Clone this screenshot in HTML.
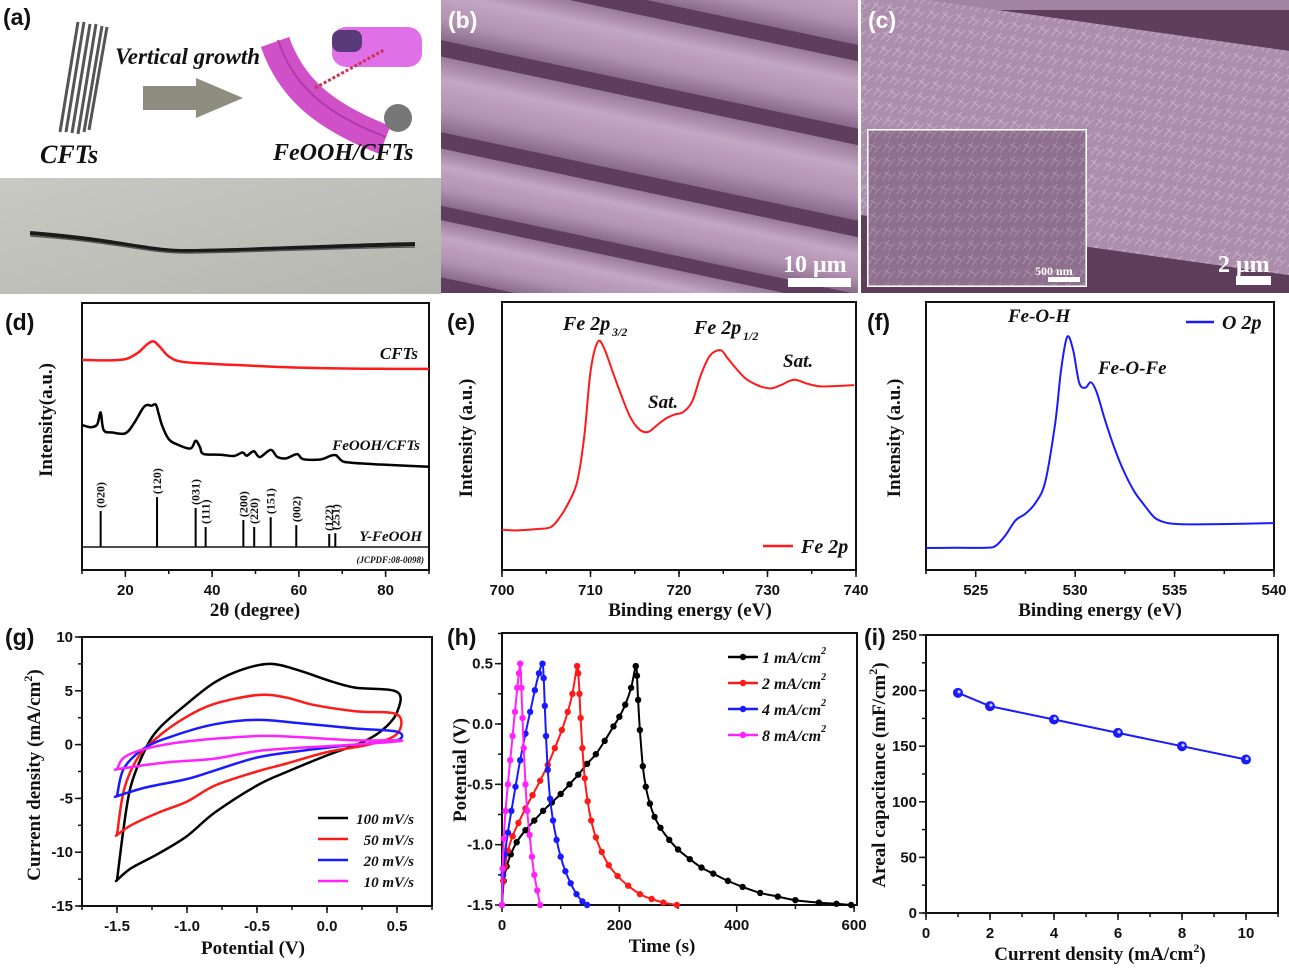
<!DOCTYPE html>
<html><head><meta charset="utf-8">
<style>
html,body{margin:0;padding:0;background:#fff;}
svg{display:block;}
.tk{font-family:"Liberation Sans",sans-serif;font-weight:bold;font-size:15px;fill:#111;}
.ti{font-family:"Liberation Serif",serif;font-weight:bold;font-size:19px;fill:#111;}
.it{font-family:"Liberation Serif",serif;font-weight:bold;font-style:italic;fill:#111;}
.pl{font-family:"Liberation Sans",sans-serif;font-weight:bold;font-size:23px;fill:#111;}
</style></head>
<body>
<svg id="fig" width="1289" height="970" viewBox="0 0 1289 970" xmlns="http://www.w3.org/2000/svg">
<defs>
<linearGradient id="bandG" x1="0" y1="0" x2="0" y2="1">
<stop offset="0" stop-color="#9a7a9a"/><stop offset="0.3" stop-color="#c2a6c2"/><stop offset="0.7" stop-color="#b292b2"/><stop offset="1" stop-color="#8a6a8a"/></linearGradient>
<linearGradient id="photoG" x1="0" y1="0" x2="1" y2="1">
<stop offset="0" stop-color="#c9c9c4"/><stop offset="1" stop-color="#b5b6b0"/></linearGradient>
<pattern id="flk" width="14" height="14" patternUnits="userSpaceOnUse">
<rect width="14" height="14" fill="#a283a2"/>
<path d="M1 12 L7 2 M6 13 L13 5 M2 4 L9 8" stroke="#d2bcd2" stroke-width="0.8"/>
</pattern>
</defs>

<g>
<rect x="0" y="178" width="441" height="116" fill="url(#photoG)"/>
<path d="M30 233 C120 240,150 252,190 251 C260 250,330 246,415 244" stroke="#1a1a1a" stroke-width="4" fill="none"/>
<path d="M30 236 C120 242,150 254,190 253 C260 252,330 248,415 247" stroke="#555" stroke-width="1.5" fill="none"/>
<g stroke="#555" stroke-width="3">
<line x1="78" y1="22" x2="60" y2="132"/><line x1="84" y1="22" x2="66" y2="132"/><line x1="90" y1="24" x2="72" y2="133"/><line x1="96" y1="24" x2="78" y2="134"/><line x1="102" y1="26" x2="84" y2="132"/><line x1="107" y1="27" x2="89" y2="130"/>
</g>
<text class="it" x="40" y="163" font-size="26">CFTs</text>
<text class="it" x="115" y="64" font-size="23">Vertical growth</text>
<polygon points="143,86 196,86 196,78 243,98 196,118 196,110 143,110" fill="#8f8d80"/>
<path d="M275 42 C290 85,320 115,385 140" stroke="#d050c8" stroke-width="30" fill="none"/>
<path d="M278 40 C292 82,320 112,386 137" stroke="#b03aa8" stroke-width="2" fill="none"/>
<circle cx="398" cy="118" r="14" fill="#777"/>
<rect x="332" y="27" width="90" height="40" rx="14" fill="#e070e8"/>
<rect x="332" y="30" width="30" height="22" rx="8" fill="#5a3a78"/>
<line x1="315" y1="88" x2="384" y2="50" stroke="#cc3355" stroke-width="3" stroke-dasharray="3,2"/>
<text class="it" x="273" y="160" font-size="24">FeOOH/CFTs</text>
<text class="pl" x="3" y="25">(a)</text>
</g>

<g>
<clipPath id="cb"><rect x="441" y="0" width="417" height="293"/></clipPath>
<g clip-path="url(#cb)">
<rect x="441" y="0" width="417" height="293" fill="#5f3d5c"/>
<g transform="rotate(12 650 150)">
<rect x="380" y="-62" width="560" height="66" fill="url(#bandG)"/>
<rect x="380" y="20" width="560" height="66" fill="url(#bandG)"/>
<rect x="380" y="102" width="560" height="74" fill="url(#bandG)"/>
<rect x="380" y="192" width="560" height="56" fill="url(#bandG)"/>
<rect x="380" y="262" width="560" height="56" fill="url(#bandG)"/>
</g>
</g>
<text x="783" y="272" font-family="Liberation Serif,serif" font-weight="bold" font-size="24" fill="#fff">10 μm</text>
<rect x="788" y="278" width="63" height="9" fill="#fff"/>
<text x="448" y="28" font-family="Liberation Sans,sans-serif" font-weight="bold" font-size="23" fill="#fff">(b)</text>
</g>

<g>
<clipPath id="cc"><rect x="861" y="0" width="428" height="293"/></clipPath>
<g clip-path="url(#cc)">
<rect x="861" y="0" width="428" height="293" fill="#5f3e5c"/>
<rect x="861" y="0" width="428" height="10" fill="#a283a2"/>
<g transform="rotate(8 1075 140)">
<rect x="820" y="22" width="520" height="222" fill="url(#flk)"/>
<rect x="820" y="22" width="520" height="222" fill="#c4a4c4" opacity="0.3"/>
</g>
</g>
<rect x="868" y="130" width="218" height="156" fill="url(#flk)" stroke="#fff" stroke-width="2"/>
<rect x="868" y="130" width="218" height="156" fill="#6a4a6a" opacity="0.35"/>
<text x="1035" y="275" font-family="Liberation Serif,serif" font-weight="bold" font-size="12" fill="#fff">500 nm</text>
<rect x="1048" y="277" width="32" height="5" fill="#fff"/>
<text x="1218" y="272" font-family="Liberation Serif,serif" font-weight="bold" font-size="24" fill="#fff">2 μm</text>
<rect x="1236" y="276" width="35" height="9" fill="#fff"/>
<text x="868" y="28" font-family="Liberation Sans,sans-serif" font-weight="bold" font-size="23" fill="#fff">(c)</text>
</g>

<g id="charts"></g>
</svg>

<script>
var xrdX_CFT = [10,15,20,23,25,26.5,28,30,33,40,45,60,75,90];
var xrdY_CFT = [78.7,78.5,79.0,81.5,84.5,85.6,83.5,80,78,77.2,76.8,75.8,75.4,75.3];
var xrdX_FE = [10,12,13.5,14.3,15,17,20,22,24,25,26,27,27.6,28.5,30,32,35,36.2,37.2,38,42,45,47,48,49.6,51,53.5,55,57,59.6,61,65,67,68.5,70,72,80,90];
var xrdY_FE = [54.3,53.5,54.5,59,52.4,51.5,51.2,55,60.5,61.8,61.5,62,59,54,49,47,45.5,48.4,46,43.5,43.2,42.7,44,42.8,44.5,42.3,45,42.4,41.8,43.4,41.5,41.4,42.6,43,40.8,40.2,39.4,38.7];
var refPos = [14.3,27.3,36.2,38.5,47.2,49.7,53.5,59.4,67.0,68.4];
var refH = [13.5,18.7,14.6,7.5,10.1,7.5,11.2,8.2,4.9,5.2];
var refLbl = ["(020)","(120)","(031)","(111)","(200)","(220)","(151)","(002)","(122)","(251)"];
var feX = [700,702,704,705.5,706.5,707.5,708.5,709.3,710,710.8,711.5,712.5,713.5,714.5,715.5,716.5,717.5,718.5,719.5,720.5,721.5,722.5,723.5,724.7,725.5,726.5,727.5,728.5,729.5,730.5,731.5,733,734.5,736,738,739.8];
var feY = [15,14.8,15.3,16,19.5,25,33,50,74,85,83,74,65,57,52.5,51.5,54,56.5,58,59,63,73,80,82,79,75,71.5,69.5,68.2,67.8,69,71,69.5,68.5,68.7,69];
var oX = [522.5,524,525.5,526,526.5,527,527.5,528,528.5,529,529.3,529.6,529.9,530.2,530.5,530.8,531.1,531.5,532,532.5,533,533.5,534,534.5,535,536,538,540];
var oY = [8.2,8.3,8.3,9,13,18.5,21,25,33,55,75,87,82,70,68,70,66,56,45,36,29,24,19.5,17.8,17.2,17,17.2,17.5];
var cvRates = ["100 mV/s","50 mV/s","20 mV/s","10 mV/s"];
var cvColors = ["#000000","#ff1a1a","#1a1aff","#ff22ff"];
var cvE = [
 [-1.5,-1.45,-1.4,-1.3,-1.2,-1.0,-0.8,-0.6,-0.4,-0.2,0.0,0.2,0.5,0.5,0.4,0.25,0.0,-0.3,-0.5,-0.8,-1.0,-1.2,-1.4,-1.5,-1.5],
 [-1.5,-1.45,-1.35,-1.2,-1.0,-0.8,-0.5,-0.3,-0.1,0.2,0.5,0.5,0.3,0.0,-0.3,-0.5,-0.8,-1.0,-1.2,-1.4,-1.5,-1.5],
 [-1.5,-1.45,-1.3,-1.1,-0.8,-0.5,-0.2,0.2,0.5,0.5,0.2,-0.2,-0.5,-0.8,-1.0,-1.3,-1.5,-1.5],
 [-1.5,-1.45,-1.3,-1.0,-0.5,-0.2,0.2,0.5,0.5,0.2,-0.2,-0.5,-0.8,-1.1,-1.3,-1.5,-1.5]];
var cvI = [
 [-12.6,-7.5,-3.8,-0.5,1.5,3.8,5.8,7.0,7.5,6.9,6.0,5.3,4.9,3.0,1.4,0.2,-1.0,-2.6,-3.8,-6.3,-8.5,-10.1,-11.5,-12.6,-12.6],
 [-8.4,-4.2,-1.2,0.8,2.6,3.8,4.6,4.4,3.7,3.1,2.8,1.0,0.0,-0.7,-1.8,-2.5,-3.8,-5.3,-6.3,-7.5,-8.4,-8.4],
 [-4.8,-2.2,-0.3,0.8,1.9,2.3,2.0,1.5,1.2,0.4,0.0,-0.6,-1.2,-2.4,-3.2,-4.0,-4.8,-4.8],
 [-2.3,-1.2,-0.4,0.3,0.8,0.7,0.4,0.4,0.3,0.0,-0.3,-0.6,-1.3,-1.6,-1.9,-2.3,-2.3]];
var gcdLbl = ["1 mA/cm","2 mA/cm","4 mA/cm","8 mA/cm"];
var gcdColors = ["#000000","#ff1a1a","#1a1aff","#ff22ff"];
var gcdT = [
 [0,3,8,15,25,40,55,70,85,100,115,130,145,160,175,190,200,210,220,228,230,232,235,240,245,252,260,270,285,300,320,340,360,385,410,440,470,500,540,570,595],
 [0,2,5,10,18,28,40,52,65,78,90,102,112,120,128,130,132,134,137,141,146,152,160,170,182,197,215,235,255,275,298],
 [0,2,5,10,16,23,31,40,48,56,63,69,71,73,75,78,82,87,93,100,108,117,127,137,145],
 [0,1,3,6,10,14,18,22,26,29,31,33,35,37,40,43,47,51,55,60,65]];
var gcdV = [
 [-1.5,-1.3,-1.18,-1.08,-0.98,-0.88,-0.8,-0.72,-0.65,-0.58,-0.5,-0.42,-0.33,-0.25,-0.14,-0.02,0.06,0.16,0.3,0.48,0.4,0.2,-0.05,-0.35,-0.52,-0.66,-0.77,-0.86,-0.96,-1.04,-1.12,-1.19,-1.24,-1.3,-1.35,-1.4,-1.43,-1.46,-1.48,-1.49,-1.5],
 [-1.5,-1.3,-1.18,-1.05,-0.93,-0.82,-0.7,-0.59,-0.47,-0.34,-0.2,-0.05,0.1,0.25,0.48,0.42,0.25,0.05,-0.2,-0.45,-0.64,-0.8,-0.94,-1.06,-1.17,-1.26,-1.34,-1.41,-1.45,-1.48,-1.5],
 [-1.5,-1.25,-1.08,-0.9,-0.72,-0.52,-0.3,-0.08,0.1,0.28,0.42,0.5,0.38,0.15,-0.1,-0.38,-0.62,-0.8,-0.96,-1.1,-1.22,-1.32,-1.41,-1.47,-1.5],
 [-1.5,-1.2,-0.95,-0.72,-0.5,-0.3,-0.1,0.1,0.3,0.42,0.5,0.3,0.05,-0.2,-0.5,-0.72,-0.92,-1.1,-1.25,-1.38,-1.5]];
var capX = [1,2,4,6,8,10];
var capY = [198,186,174,162,150,138];

var NS = "http://www.w3.org/2000/svg";
var root = document.getElementById("charts");
function E(tag, attrs, parent){var e=document.createElementNS(NS,tag);for(var k in attrs)e.setAttribute(k,attrs[k]);(parent||root).appendChild(e);return e;}
function T(str, x, y, cls, parent, extra){var e=E("text",{x:x,y:y,"class":cls},parent);if(extra)for(var k in extra)e.setAttribute(k,extra[k]);e.textContent=str;return e;}
function lin(d0,d1,r0,r1){return function(v){return r0+(v-d0)/(d1-d0)*(r1-r0);};}
function smooth(pts){var d="M"+pts[0][0].toFixed(1)+" "+pts[0][1].toFixed(1);for(var i=0;i<pts.length-1;i++){var p0=pts[Math.max(0,i-1)],p1=pts[i],p2=pts[i+1],p3=pts[Math.min(pts.length-1,i+2)];var c1x=p1[0]+(p2[0]-p0[0])/6,c1y=p1[1]+(p2[1]-p0[1])/6,c2x=p2[0]-(p3[0]-p1[0])/6,c2y=p2[1]-(p3[1]-p1[1])/6;d+=" C"+c1x.toFixed(1)+" "+c1y.toFixed(1)+","+c2x.toFixed(1)+" "+c2y.toFixed(1)+","+p2[0].toFixed(1)+" "+p2[1].toFixed(1);}return d;}
function pts(xs,ys,sx,sy){var p=[];for(var i=0;i<xs.length;i++)p.push([sx(xs[i]),sy(ys[i])]);return p;}

function panel(name,b,xd,yd){
 var g=E("g",{});
 
 
 var sx=lin(xd[0],xd[1],b[0],b[2]), sy=lin(yd[0],yd[1],b[3],b[1]);
 var fr=E("rect",{x:b[0],y:b[1],width:b[2]-b[0],height:b[3]-b[1],fill:"none",stroke:"#111","stroke-width":2},g);
 
 
 return {g:g,sx:sx,sy:sy,b:b};
}
function xTicks(P,major,minor,fmt){
 for(var i=0;i<minor.length;i++){var t=E("line",{x1:P.sx(minor[i]),x2:P.sx(minor[i]),y1:P.b[3],y2:P.b[3]+4,stroke:"#111","stroke-width":1.5},P.g);
 
 }
 for(var i=0;i<major.length;i++){var x=P.sx(major[i]);var t=E("line",{x1:x,x2:x,y1:P.b[3],y2:P.b[3]+7,stroke:"#111","stroke-width":1.5},P.g);
 
 
 var l=T(fmt(major[i]),x,P.b[3]+25,"tk",P.g,{"text-anchor":"middle"});
 
 }
}
function yTicks(P,major,minor,fmt){
 for(var i=0;i<minor.length;i++){var t=E("line",{y1:P.sy(minor[i]),y2:P.sy(minor[i]),x1:P.b[0],x2:P.b[0]-4,stroke:"#111","stroke-width":1.5},P.g);
 
 }
 for(var i=0;i<major.length;i++){var y=P.sy(major[i]);var t=E("line",{y1:y,y2:y,x1:P.b[0],x2:P.b[0]-7,stroke:"#111","stroke-width":1.5},P.g);
 
 
 var l=T(fmt(major[i]),P.b[0]-9,y+5,"tk",P.g,{"text-anchor":"end"});
 
 }
}
function range(a,b,s){var r=[];for(var v=a;v<=b+1e-9;v+=s)r.push(Math.round(v*1000)/1000);return r;}
function axTitles(P,xt,xx,xy,yt,yx,yy){
 var a=T(xt,xx,xy,"ti",P.g,{"text-anchor":"middle"});
 
 
 var c=T(yt,yx,yy,"ti",P.g,{"text-anchor":"middle",transform:"rotate(-90 "+yx+" "+yy+")"});
 
 
 return {x:a,y:c};
}
function addSup(el){
 var s=E("tspan",{"font-size":12,dy:-8},el); s.textContent="2";
 
 
 var p=E("tspan",{dy:8},el); p.textContent=")";
 
 
}
function plabel(P,s,x,y){var l=T(s,x,y,"pl",P.g);
 
 }
function ital(P,s,x,y,size,name,anchor){var l=T(s,x,y,"it",P.g,{"font-size":size,"text-anchor":anchor||"start"});
 
 return l;}

// (d)
var D=panel("panel-d-xrd",[82,303,429,570],[10,90],[0,100]);
xTicks(D,[20,40,60,80],range(10,90,10),function(v){return v;});
var dl=E("line",{x1:82,x2:429,y1:D.sy(8.6),y2:D.sy(8.6),stroke:"#111","stroke-width":1.5},D.g);


var p1=E("path",{d:smooth(pts(xrdX_CFT,xrdY_CFT,D.sx,D.sy)),fill:"none",stroke:"#ff1a1a","stroke-width":2.5},D.g);


var p2=E("path",{d:smooth(pts(xrdX_FE,xrdY_FE,D.sx,D.sy)),fill:"none",stroke:"#000","stroke-width":2.5},D.g);


for(var i=0;i<refPos.length;i++){
 var x=D.sx(refPos[i]);
 var s=E("line",{x1:x,x2:x,y1:D.sy(8.6),y2:D.sy(8.6+refH[i]),stroke:"#000","stroke-width":2},D.g);
 
 
 var yt=D.sy(8.6+refH[i])-3;
 var l=T(refLbl[i],x+4,yt,"",D.g,{style:"font-family:'Liberation Serif',serif;font-weight:bold;font-size:12px;fill:#111",transform:"rotate(-90 "+(x+4)+" "+yt+")"});
 
 
}
ital(D,"CFTs",418,359,17,"cfts-label","end");
ital(D,"FeOOH/CFTs",420,450,15,"feooh-cfts-label","end");
ital(D,"Y-FeOOH",422,541,15,"gamma-feooh-label","end");
ital(D,"(JCPDF:08-0098)",424,563,9,"jcpdf-label","end");
axTitles(D,"2θ (degree)",255,616,"Intensity(a.u.)",52,420);
plabel(D,"(d)",5,330);

// (e)
var Ep=panel("panel-e-fe2p",[502,302,856,570],[700,740],[0,100]);
xTicks(Ep,range(700,740,10),range(700,740,5),function(v){return v;});
var pe=E("path",{d:smooth(pts(feX,feY,Ep.sx,Ep.sy)),fill:"none",stroke:"#ff1a1a","stroke-width":2},Ep.g);


ital(Ep,"Fe 2p",563,330,20,"fe2p32-label");
var s1=T("3/2",612,336,"it",Ep.g,{"font-size":12});  
ital(Ep,"Fe 2p",694,334,20,"fe2p12-label");
var s2=T("1/2",743,340,"it",Ep.g,{"font-size":12});  
ital(Ep,"Sat.",648,408,19,"sat-label-1");
ital(Ep,"Sat.",783,367,19,"sat-label-2");
var le=E("line",{x1:763,x2:793,y1:546,y2:546,stroke:"#ff1a1a","stroke-width":2.5},Ep.g);


ital(Ep,"Fe 2p",801,553,20,"legend-entry");
axTitles(Ep,"Binding energy (eV)",690,616,"Intensity (a.u.)",472,438);
plabel(Ep,"(e)",447,330);

// (f)
var F=panel("panel-f-o2p",[926,302,1274,570],[522.5,540],[0,100]);
xTicks(F,[525,530,535,540],range(522.5,540,2.5),function(v){return v;});
var pf=E("path",{d:smooth(pts(oX,oY,F.sx,F.sy)),fill:"none",stroke:"#1a1aff","stroke-width":2},F.g);


ital(F,"Fe-O-H",1008,322,19,"fe-o-h-label");
ital(F,"Fe-O-Fe",1098,374,19,"fe-o-fe-label");
var lf=E("line",{x1:1186,x2:1214,y1:322,y2:322,stroke:"#1a1aff","stroke-width":2.5},F.g);


ital(F,"O 2p",1222,329,20,"legend-entry");
axTitles(F,"Binding energy (eV)",1100,616,"Intensity (a.u.)",900,438);
plabel(F,"(f)",867,330);

// (g)
var G=panel("panel-g-cv",[82,637,432,906],[-1.75,0.75],[-15,10]);
xTicks(G,[-1.5,-1.0,-0.5,0.0,0.5],range(-1.75,0.75,0.25),function(v){return v.toFixed(1);});
yTicks(G,range(-15,10,5),range(-15,10,2.5),function(v){return v;});
for(var s=0;s<cvE.length;s++){
 var pc=E("path",{d:smooth(pts(cvE[s],cvI[s],G.sx,G.sy)),fill:"none",stroke:cvColors[s],"stroke-width":2.5},G.g);
 
 
 var ll=E("line",{x1:318,x2:348,y1:818+s*21,y2:818+s*21,stroke:cvColors[s],"stroke-width":2.5},G.g);
 
 
 var lt=T(cvRates[s],414,824+s*21,"it",G.g,{"font-size":15,"text-anchor":"end"});
 
 
}
var gt=axTitles(G,"Potential (V)",253,954,"Current density (mA/cm",40,775);
addSup(gt.y);
plabel(G,"(g)",5,645);

// (h)
var H=panel("panel-h-gcd",[502,633,857,905],[0,605],[-1.5,0.754]);
xTicks(H,[0,200,400,600],range(0,600,100),function(v){return v;});
yTicks(H,[0.5,0.0,-0.5,-1.0,-1.5],range(-1.5,0.75,0.25),function(v){return v.toFixed(1);});
for(var s=0;s<gcdT.length;s++){
 var ph=E("path",{d:smooth(pts(gcdT[s],gcdV[s],H.sx,H.sy)),fill:"none",stroke:gcdColors[s],"stroke-width":2},H.g);
 
 
 for(var k=0;k<gcdT[s].length;k++){
  var c=E("circle",{cx:H.sx(gcdT[s][k]),cy:H.sy(gcdV[s][k]),r:3.2,fill:gcdColors[s]},H.g);
  
  
 }
 var ly=657+s*26;
 var lh=E("line",{x1:728,x2:758,y1:ly,y2:ly,stroke:gcdColors[s],"stroke-width":2.5},H.g);
 
 
 var lc=E("circle",{cx:743,cy:ly,r:3.2,fill:gcdColors[s]},H.g);
 
 
 var lt=T(gcdLbl[s],762,ly+6,"it",H.g,{"font-size":16});
 
 
 var su=E("tspan",{"font-size":10,dy:-9},lt); su.textContent="2";
 
 
}
axTitles(H,"Time (s)",662,952,"Potential (V)",466,770);
plabel(H,"(h)",447,645);

// (i)
var I=panel("panel-i-capacitance",[926,635,1278,913],[0,11],[0,250]);
xTicks(I,range(0,10,2),range(0,11,1),function(v){return v;});
yTicks(I,range(0,250,50),range(0,250,25),function(v){return v;});
var pl=[];for(var k=0;k<capX.length;k++)pl.push(I.sx(capX[k]).toFixed(1)+","+I.sy(capY[k]).toFixed(1));
var pli=E("polyline",{points:pl.join(" "),fill:"none",stroke:"#1a1aff","stroke-width":2},I.g);


for(var k=0;k<capX.length;k++){
 var c=E("circle",{cx:I.sx(capX[k]),cy:I.sy(capY[k]),r:5,fill:"#1a1aff"},I.g);
 
 
 var hl=E("circle",{cx:I.sx(capX[k])+1,cy:I.sy(capY[k])-1,r:1.6,fill:"#ccd"},I.g);
 
 
}
var it=axTitles(I,"Current density (mA/cm",1100,960,"Areal capacitance (mF/cm",885,775);
addSup(it.x);
addSup(it.y);
plabel(I,"(i)",864,645);
</script>
</body></html>
